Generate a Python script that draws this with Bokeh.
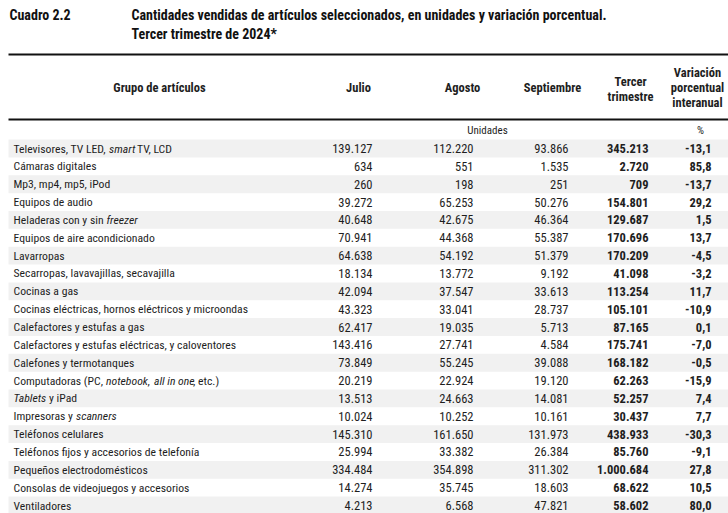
from bokeh.plotting import figure
from bokeh.models import Range1d, ColumnDataSource
from bokeh.core.properties import value
from bokeh.embed import file_html
from bokeh.resources import INLINE

# ---------------- data ----------------
items = [
    "Televisores, TV LED, smart TV, LCD",
    "Cámaras digitales",
    "Mp3, mp4, mp5, iPod",
    "Equipos de audio",
    "Heladeras con y sin freezer",
    "Equipos de aire acondicionado",
    "Lavarropas",
    "Secarropas, lavavajillas, secavajilla",
    "Cocinas a gas",
    "Cocinas eléctricas, hornos eléctricos y microondas",
    "Calefactores y estufas a gas",
    "Calefactores y estufas eléctricas, y caloventores",
    "Calefones y termotanques",
    "Computadoras (PC, notebook, all in one, etc.)",
    "Tablets y iPad",
    "Impresoras y scanners",
    "Teléfonos celulares",
    "Teléfonos fijos y accesorios de telefonía",
    "Pequeños electrodomésticos",
    "Consolas de videojuegos y accesorios",
    "Ventiladores",
]
julio = [139127, 634, 260, 39272, 40648, 70941, 64638, 18134, 42094, 43323, 62417,
         143416, 73849, 20219, 13513, 10024, 145310, 25994, 334484, 14274, 4213]
agosto = [112220, 551, 198, 65253, 42675, 44368, 54192, 13772, 37547, 33041, 19035,
          27741, 55245, 22924, 24663, 10252, 161650, 33382, 354898, 35745, 6568]
septiembre = [93866, 1535, 251, 50276, 46364, 55387, 51379, 9192, 33613, 28737, 5713,
              4584, 39088, 19120, 14081, 10161, 131973, 26384, 311302, 18603, 47821]
tercer = [345213, 2720, 709, 154801, 129687, 170696, 170209, 41098, 113254, 105101, 87165,
          175741, 168182, 62263, 52257, 30437, 438933, 85760, 1000684, 68622, 58602]
variacion = [-13.1, 85.8, -13.7, 29.2, 1.5, 13.7, -4.5, -3.2, 11.7, -10.9, 0.1,
             -7.0, -0.5, -15.9, 7.4, 7.7, -30.3, -9.1, 27.8, 10.5, 80.0]
italic_words = ["smart", "freezer", "notebook", "all in one", "Tablets", "scanners"]

cuadro = "Cuadro 2.2"
title_lines = ["Cantidades vendidas de artículos seleccionados, en unidades y variación porcentual.",
               "Tercer trimestre de 2024*"]
col_headers = ["Grupo de artículos", "Julio", "Agosto", "Septiembre",
               "Tercer\ntrimestre", "Variación\nporcentual\ninteranual"]
unit_labels = ["Unidades", "%"]

# ---------------- layout / style ----------------
FONT = "Roboto Condensed, DejaVu Sans Condensed, Roboto, sans-serif"
INK = "#1e1e1e"
W, H = 728, 513
ROW0, STEP = 148.0, 17.85
LEFT = 13
col_right = [372, 473, 568, 648, 711]
head_x = [159, 358, 462, 552, 630, 697]
# x start of each label segment (rows with italics)
seg_x = {0: [LEFT, 108.5, 136.5], 4: [LEFT, 106], 13: [LEFT, 105.5, 147, 153.5, 192.5],
         14: [LEFT, 48.5], 15: [LEFT, 75.5]}


def fmt_int(v):
    return f"{v:,}".replace(",", ".")


def fmt_pct(v):
    return f"{v:.1f}".replace(".", ",")


def split_label(name):
    segs = [(name, False)]
    for w in italic_words:
        out = []
        for t, it in segs:
            if it or w not in t:
                out.append((t, it))
                continue
            a, b = t.split(w, 1)
            if a.strip():
                out.append((a.strip(), False))
            out.append((w, True))
            if b.strip():
                out.append((b.strip(), False))
        segs = out
    return segs


p = figure(width=W, height=H, output_backend="svg", toolbar_location=None,
           x_range=Range1d(0, W), y_range=Range1d(H, 0),
           min_border=0, outline_line_color=None)
p.axis.visible = False
p.grid.visible = False
p.background_fill_color = "white"
p.border_fill_color = "white"

n = len(items)
row_y = [ROW0 + STEP * i for i in range(n)]

# zebra bands
band_y = [row_y[i] for i in range(n) if i % 2 == 0]
p.quad(left=8, right=W, top=[y - STEP / 2 for y in band_y],
       bottom=[y + STEP / 2 for y in band_y], fill_color="#f1f1f1", line_color=None)

# rules
p.segment(x0=[8, 8], x1=[W, W], y0=[54, 119], y1=[54, 119],
          line_color="#111111", line_width=2.2)

# titles
p.text(x=[9], y=[14], text=[cuadro], text_font=value(FONT), text_font_style="bold",
       text_font_size="14px", text_baseline="middle", text_color="#111111")
p.text(x=[131, 131], y=[14, 33], text=title_lines, text_font=value(FONT),
       text_font_style="bold", text_font_size="14px", text_baseline="middle",
       text_color="#111111")

# column headers
head_y = [87, 87, 87, 87, 88, 87]
p.text(x=head_x, y=head_y, text=col_headers, text_font=value(FONT),
       text_font_style="bold", text_font_size="12.5px", text_align="center",
       text_baseline="middle", text_line_height=1.0, text_color=INK)
p.text(x=[487, 700], y=[130, 130], text=unit_labels, text_font=value(FONT),
       text_font_size="11px", text_align="center", text_baseline="middle",
       text_color=INK)

# item labels (with italic segments)
lx, ly, lt, ls = [], [], [], []
for i, name in enumerate(items):
    segs = split_label(name)
    xs = seg_x.get(i, [LEFT])
    for k, (t, it) in enumerate(segs):
        lx.append(xs[k])
        ly.append(row_y[i])
        lt.append(t)
        ls.append("italic" if it else "normal")
src = ColumnDataSource(dict(x=lx, y=ly, text=lt, style=ls))
p.text(x="x", y="y", text="text", source=src, text_font=value(FONT),
       text_font_style="style", text_font_size="11.7px", text_baseline="middle",
       text_color=INK)

# numeric columns
cols = [(julio, fmt_int, "normal"), (agosto, fmt_int, "normal"),
        (septiembre, fmt_int, "normal"), (tercer, fmt_int, "bold"),
        (variacion, fmt_pct, "bold")]
for (vals, f, style), xr in zip(cols, col_right):
    p.text(x=[xr] * n, y=row_y, text=[f(v) for v in vals], text_font=value(FONT),
           text_font_style=style, text_font_size="12.5px", text_align="right",
           text_baseline="middle", text_color=INK)

open("out.html", "w").write(file_html(p, INLINE))
